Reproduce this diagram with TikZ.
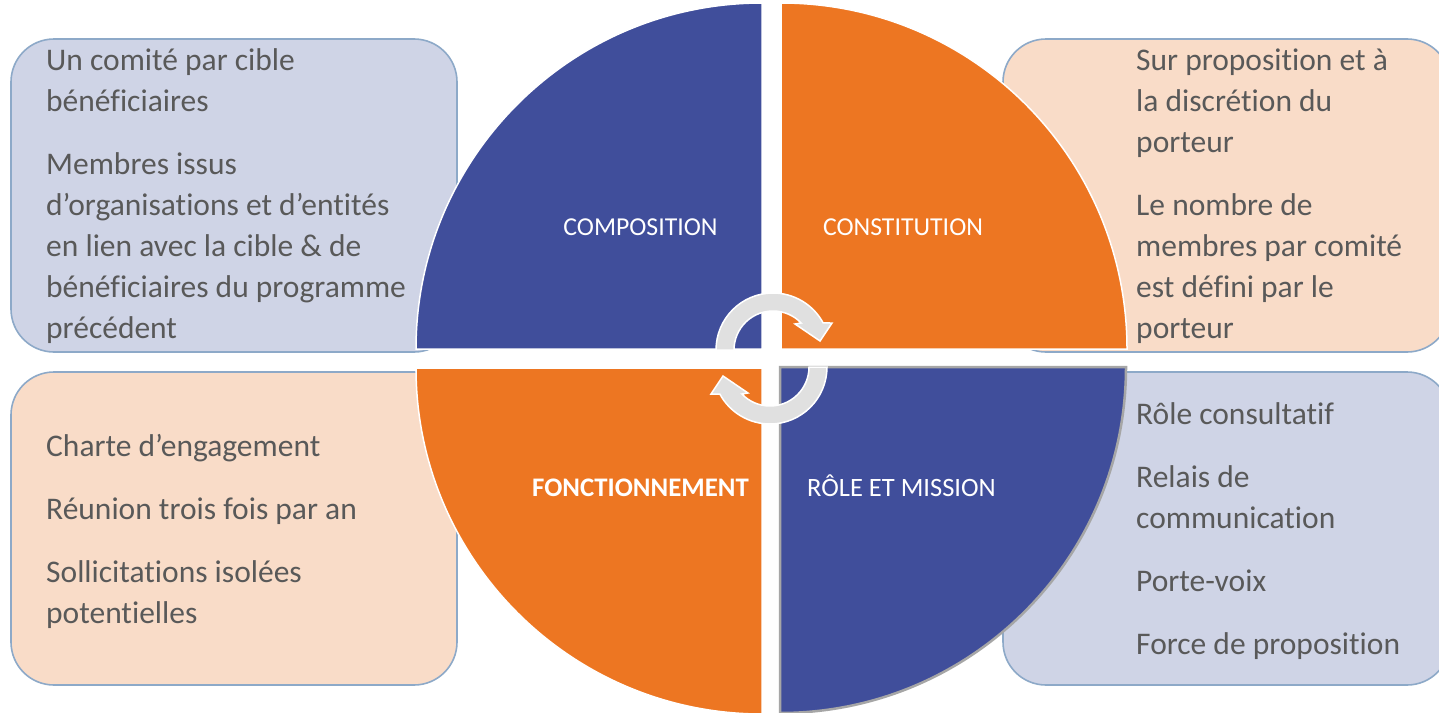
\documentclass[tikz,border=0pt]{standalone}
\usepackage{fontspec}
\setmainfont{Carlito}[Ligatures={NoCommon}]
\usetikzlibrary{calc}
\definecolor{qblue}{HTML}{404E9B}
\definecolor{qorange}{HTML}{ED7622}
\definecolor{bxblue}{HTML}{CFD4E6}
\definecolor{bxpeach}{HTML}{F9DCC8}
\definecolor{bxline}{HTML}{8DA9C8}
\definecolor{txtgray}{HTML}{595959}
\definecolor{arrgray}{HTML}{E0E0E0}
\tikzset{
  infobox/.style={line width=1.6pt, draw=bxline, rounded corners=43pt},
  boxtext/.style={anchor=base west, inner sep=0pt, align=left, text=txtgray,
    font=\fontsize{31.5}{41}\selectfont},
  quadlabel/.style={anchor=base, inner sep=0pt, text=white,
    font=\fontsize{25.8}{30}\selectfont},
  sector/.style={draw=white, line width=1.5pt},
  cycarrow/.style={fill=arrgray, draw=white, line width=1.5pt, line join=miter},
  pics/cyclarrow/.style={code={
    \path[cycarrow] (180:57) arc[start angle=180, end angle=331.7, radius=57]
      -- (59,-27) -- (47,-9) -- (22,-26) -- (316.2:39)
      arc[start angle=316.2, end angle=180, radius=39] -- cycle;
  }}
}
\begin{document}
\begin{tikzpicture}[x=1pt, y=-1pt]
\useasboundingbox (0,0) rectangle (1439,712);
\fill[white] (0,0) rectangle (1439,712);
% boxes
\path[infobox, fill=bxblue] (11,39) rectangle (457,352);
\path[infobox, fill=bxpeach] (1003,39) rectangle (1450,352);
\path[infobox, fill=bxpeach] (11,372) rectangle (457,685);
\path[infobox, fill=bxblue] (1003,372) rectangle (1450,685);
% sectors
\path[sector, fill=qblue] (762,349) -- ++(-346,0) arc[start angle=180, end angle=270, radius=346] -- cycle;
\path[sector, fill=qorange] (781,349) -- ++(0,-346) arc[start angle=270, end angle=360, radius=346] -- cycle;
\path[sector, fill=qorange] (762,368) -- ++(0,346) arc[start angle=90, end angle=180, radius=346] -- cycle;
\path[fill=qblue, draw=black!35, line width=2.5pt] (780,367) -- ++(346,0) arc[start angle=0, end angle=90, radius=346] -- cycle;
% central arrows
\pic (arrtop) at (773,350) {cyclarrow};
\pic[rotate=180] (arrbot) at (770,367) {cyclarrow};
% labels
\node[quadlabel] (lcomp) at (640.5,235.7) {COMPOSITION};
\node[quadlabel] (lcons) at (903,235.7) {CONSTITUTION};
\node[quadlabel, font=\fontsize{26.8}{30}\selectfont\bfseries] (lfonc) at (640.5,496.7) {FONCTIONNEMENT};
\node[quadlabel, font=\fontsize{26.5}{30}\selectfont] (lrole) at (901.5,496.7) {RÔLE ET MISSION};
% box texts (anchored at the baseline of the last line)
\node[boxtext] (tcomp) at (46,338) {Un comité par cible\\bénéficiaires\\[22pt]Membres issus\\d’organisations et d’entités\\en lien avec la cible \& de\\bénéficiaires du programme\\précédent};
\node[boxtext] (tcons) at (1136,338) {Sur proposition et à\\la discrétion du\\porteur\\[22pt]Le nombre de\\membres par comité\\est défini par le\\porteur};
\node[boxtext] (tfonc) at (46,623) {Charte d’engagement\\[22pt]Réunion trois fois par an\\[22pt]Sollicitations isolées\\potentielles};
\node[boxtext] (trole) at (1136,654.3) {Rôle consultatif\\[22pt]Relais de\\communication\\[22pt]Porte-voix\\[22pt]Force de proposition};
\end{tikzpicture}
\end{document}
